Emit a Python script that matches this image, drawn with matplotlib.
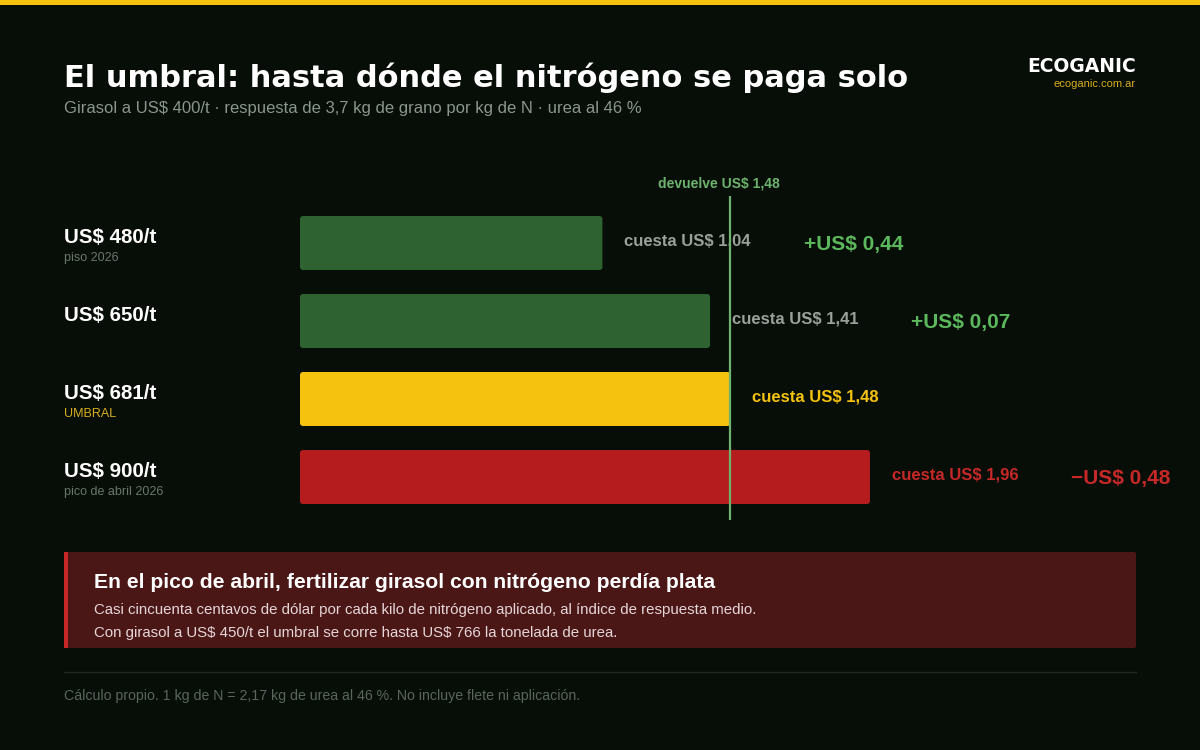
import matplotlib
matplotlib.use('Agg')
import matplotlib.pyplot as plt
from matplotlib.patches import FancyBboxPatch, Rectangle
from matplotlib.lines import Line2D

plt.rcParams['font.family'] = ['Liberation Sans', 'DejaVu Sans']
plt.rcParams['text.parse_math'] = False

# datos
precios = ['US$ 480/t', 'US$ 650/t', 'US$ 681/t', 'US$ 900/t']
notas = ['piso 2026', '', 'UMBRAL', 'pico de abril 2026']
costos = [1.04, 1.41, 1.48, 1.96]
devuelve = 1.48
margenes = [0.44, 0.07, None, -0.48]

# colores
BG = '#060e07'
AMARILLO = '#f4c20f'
VERDE_BAR = '#2e6230'
VERDE_TXT = '#5cb85c'
ROJO = '#b51c1e'
ROJO_TXT = '#c62828'
GRIS = '#9aa09a'
colores_bar = [VERDE_BAR, VERDE_BAR, AMARILLO, ROJO]
colores_costo = [GRIS, GRIS, AMARILLO, ROJO_TXT]
colores_nota = ['#6b776b', '#6b776b', '#d8ae1e', '#6b776b']


def fmt(v):
    return f"{v:.2f}".replace('.', ',')


W, H = 1200, 750
fig = plt.figure(figsize=(12, 7.5), dpi=100, facecolor=BG)


def P(x, y):
    # pixeles (desde arriba) a fraccion de figura
    return x / W, 1 - y / H


# franja superior
fig.patches.append(Rectangle(P(0, 5), 1, 5 / H, transform=fig.transFigure,
                             fc=AMARILLO, ec='none'))

# titulo y subtitulo
fig.text(*P(64, 78), 'El umbral: hasta dónde el nitrógeno se paga solo',
         color='white', fontsize=22, fontweight='bold', va='center',
         family=['DejaVu Sans'])
fig.text(*P(64, 109), 'Girasol a US$ 400/t · respuesta de 3,7 kg de grano por kg de N · urea al 46 %',
         color='#8c968c', fontsize=12, va='center')
fig.text(*P(1136, 67), 'ECOGANIC', color='white', fontsize=13.5, fontweight='bold',
         ha='right', va='center', family=['DejaVu Sans'])
fig.text(*P(1136, 84), 'ecoganic.com.ar', color='#d8ae1e', fontsize=8,
         ha='right', va='center')

# barras
px_x = 290.8   # px por unidad
px_y = 78.0    # px por fila
ax = fig.add_axes([300 / W, 1 - 530 / H, 900 / W, 350 / H])
ax.set_xlim(0, 900 / px_x)
ax.set_ylim((530 - 243) / px_y, (180 - 243) / px_y)
ax.axis('off')

h = 54 / px_y
rs = 3 / px_x
asp = px_x / px_y
for i, c in enumerate(costos):
    ax.add_patch(FancyBboxPatch((0, i - h / 2), c, h,
                                boxstyle=f"round,pad=0,rounding_size={rs}",
                                mutation_aspect=asp, fc=colores_bar[i], ec='none'))
    ax.annotate(f'cuesta US$ {fmt(c)}', (c, i), xytext=(15.8, 1.5),
                textcoords='offset points', va='center', ha='left',
                color=colores_costo[i], fontsize=12, fontweight='bold')
    m = margenes[i]
    if m is not None:
        signo = '+' if m >= 0 else '−'
        ax.annotate(f'{signo}US$ {fmt(abs(m))}', (c, i), xytext=(145, -0.8),
                    textcoords='offset points', va='center', ha='left',
                    color=VERDE_TXT if m >= 0 else ROJO_TXT,
                    fontsize=15, fontweight='bold')
    ax.annotate(precios[i], (64 / W, i), xycoords=('figure fraction', 'data'),
                xytext=(0, 4.3), textcoords='offset points', va='center',
                color='white', fontsize=14.8, fontweight='bold')
    if notas[i]:
        ax.annotate(notas[i], (64 / W, i), xycoords=('figure fraction', 'data'),
                    xytext=(0, -10.8), textcoords='offset points', va='center',
                    color=colores_nota[i], fontsize=9)

ax.plot([devuelve, devuelve], [(196 - 243) / px_y, (520 - 243) / px_y],
        color='#6db36d', lw=1.6, solid_capstyle='butt', zorder=3)
ax.annotate(f'devuelve US$ {fmt(devuelve)}', (devuelve, (184 - 243) / px_y),
            xytext=(-8.6, 0), textcoords='offset points', ha='center', va='center',
            color='#6db36d', fontsize=10, fontweight='bold')

# recuadro
fig.patches.append(FancyBboxPatch(P(64, 648), 1072 / W, 96 / H,
                                  boxstyle='round,pad=0,rounding_size=0.002',
                                  transform=fig.transFigure, fc='#4a1616', ec='none'))
fig.patches.append(Rectangle(P(64, 648), 4 / W, 96 / H, transform=fig.transFigure,
                             fc='#c62828', ec='none'))
fig.text(*P(94, 582), 'En el pico de abril, fertilizar girasol con nitrógeno perdía plata',
         color='white', fontsize=15.2, fontweight='bold', va='center')
fig.text(*P(94, 610), 'Casi cincuenta centavos de dólar por cada kilo de nitrógeno aplicado, al índice de respuesta medio.',
         color='#e6d6d6', fontsize=10.8, va='center')
fig.text(*P(94, 633), 'Con girasol a US$ 450/t el umbral se corre hasta US$ 766 la tonelada de urea.',
         color='#e6d6d6', fontsize=10.8, va='center')

# pie
fig.lines.append(Line2D([64 / W, 1136 / W], [1 - 672 / H] * 2, transform=fig.transFigure,
                        color='#1d291d', lw=1))
fig.text(*P(64, 696), 'Cálculo propio. 1 kg de N = 2,17 kg de urea al 46 %. No incluye flete ni aplicación.',
         color='#5a665a', fontsize=10.2, va='center')

fig.savefig('out.png', dpi=100, facecolor=BG)
